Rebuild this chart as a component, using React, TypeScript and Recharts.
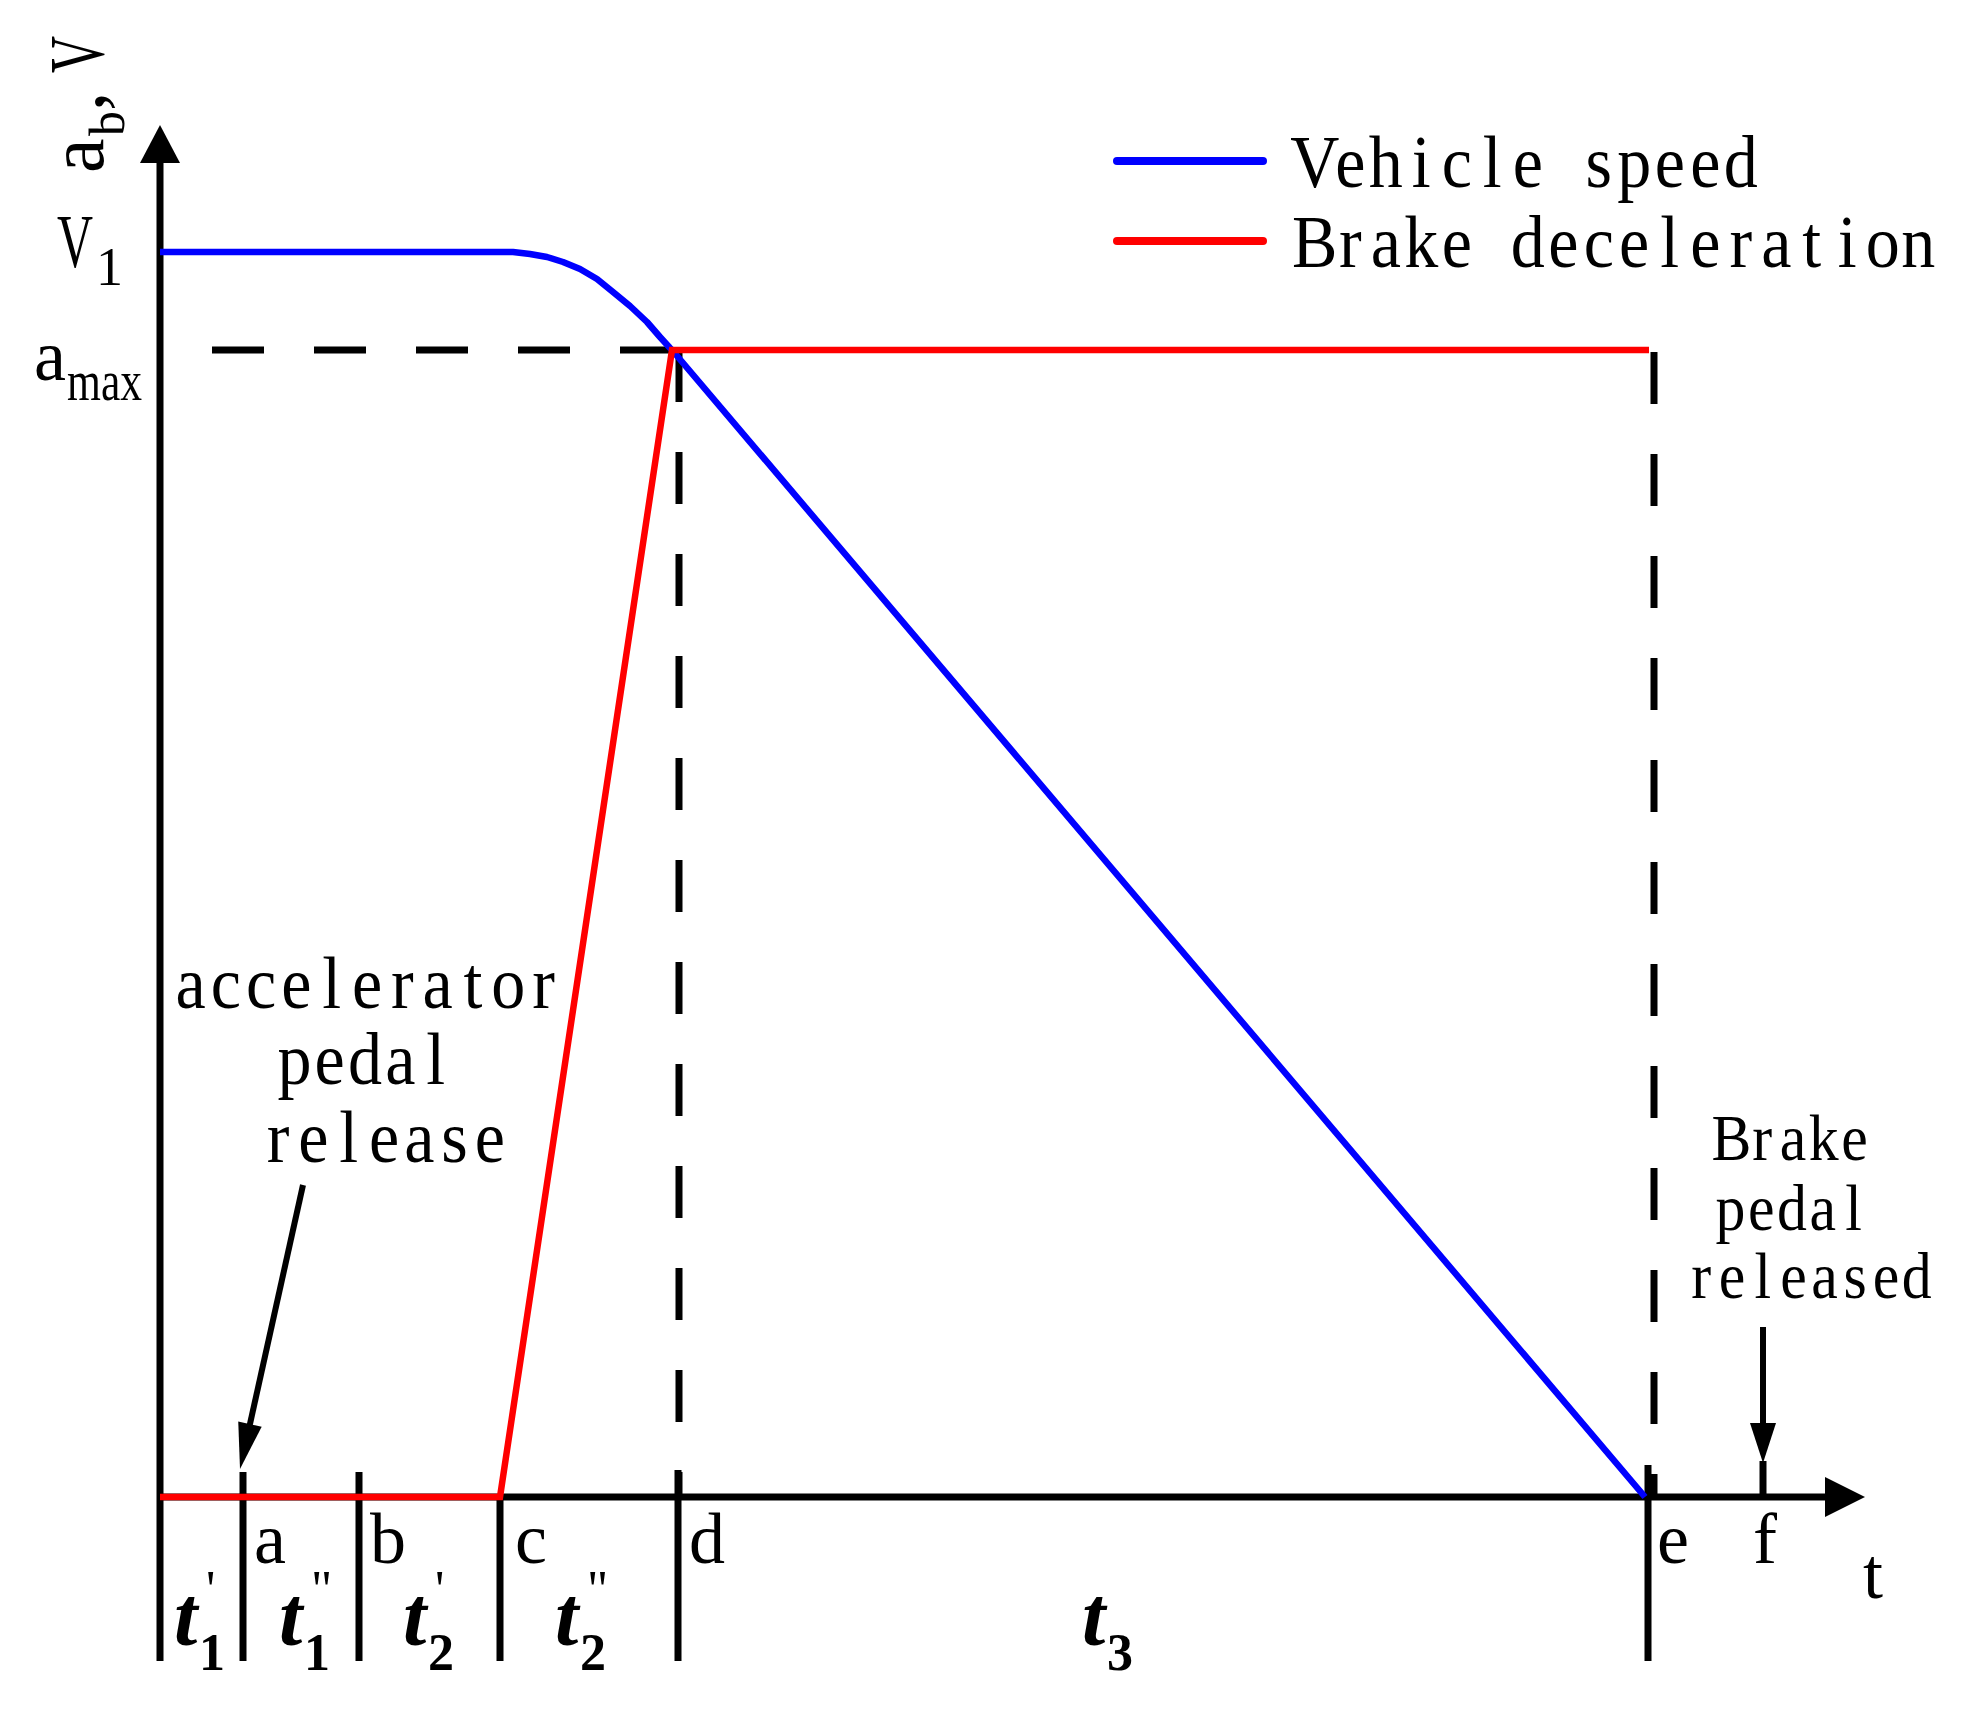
import React from 'react'
import { LineChart, Line, XAxis, YAxis, ReferenceLine, ReferenceDot, Legend } from 'recharts'

// time in arbitrary units, measured from the V axis
const SPEED_T = [0, 3.53, 3.7, 3.87, 4.03, 4.2, 4.37, 4.53, 4.7, 4.87, 5.0, 5.1, 5.12, 14.85]
const SPEED_V = [12.45, 12.45, 12.43, 12.4, 12.35, 12.28, 12.18, 12.05, 11.91, 11.75, 11.6, 11.49, 11.47, 0]
const DECEL_T = [0, 3.4, 5.12, 14.89]
const DECEL_A = [0, 0, 11.47, 11.47]
const SERIES_NAMES = ['Vehicle speed', 'Brake deceleration']

const V1 = 12.45
const A_MAX = 11.47

// phase boundaries a..e (solid marks under the t axis) and f (brake release)
const EVENT_T = [0.83, 1.99, 3.4, 5.18, 14.88]
const EVENT_TOP = [0.25, 0.25, 0, 0.27, 0.32]
const F_T = 16.03
const LETTERS = ['a', 'b', 'c', 'd', 'e', 'f']
const LETTER_T = [0.94, 2.1, 3.55, 5.29, 14.97, 15.93]

// phase durations under the axis
const SEG_T = [0.14, 1.19, 2.43, 3.95, 9.22]
const SEG_SUB = ['1', '1', '2', '2', '3']
const SEG_PRIME = ["'", '"', "'", '"', '']

const DASH_D_T = 5.19
const DASH_E_T = 14.94

const T_END = 17.05
const Y_TOP = 13.72
const BELOW = -1.64

const ACCEL_NOTE = ['accelerator', 'pedal', 'release']
const ACCEL_NOTE_T = [2.07, 2.05, 2.24]
const ACCEL_NOTE_Y = [4.89, 4.13, 3.35]
const BRAKE_NOTE = ['Brake', 'pedal', 'released']
const BRAKE_NOTE_T = [16.33, 16.32, 16.49]
const BRAKE_NOTE_Y = [3.37, 2.67, 1.99]

const speedData = SPEED_T.map((t, i) => ({ t, v: SPEED_V[i] }))
const decelData = DECEL_T.map((t, i) => ({ t, v: DECEL_A[i] }))

const SERIF = '"Liberation Serif", "Times New Roman", serif'

// evenly spaced serif glyphs, like the SimSun latin in the original
function CellText({ x, y, text, size, cw, anchor = 'start', sx = 0.92 }: any) {
  const start = anchor === 'middle' ? x - (text.length * cw) / 2 : x
  const xs = [...text].map((_: string, i: number) => ((i + 0.5) * cw) / sx)
  return (
    <g transform={`translate(${start},${y}) scale(${sx},1)`}>
      <text x={xs.join(' ')} y={0} textAnchor="middle" fontFamily={SERIF} fontSize={size} fill="#000">{text}</text>
    </g>
  )
}

const arrow = (len: number, half: number, w: number) => (p: any) => {
  const { x1, y1, x2, y2 } = p
  const dx = x2 - x1, dy = y2 - y1
  const L = Math.hypot(dx, dy) || 1
  const ux = dx / L, uy = dy / L
  const bx = x2 - ux * len, by = y2 - uy * len
  return (
    <g>
      <line x1={x1} y1={y1} x2={bx + ux * 3} y2={by + uy * 3} stroke="#000" strokeWidth={w} />
      <polygon points={`${x2},${y2} ${bx - uy * half},${by + ux * half} ${bx + uy * half},${by - ux * half}`} fill="#000" />
    </g>
  )
}

const renderLegend = (props: any) => {
  const items = [...(props.payload ?? [])].sort(
    (a: any, b: any) => SERIES_NAMES.indexOf(a.value) - SERIES_NAMES.indexOf(b.value))
  return (
    <svg width={880} height={170}>
      {items.map((it: any, i: number) => (
        <g key={i}>
          <line x1={17} x2={163} y1={41 + i * 80} y2={41 + i * 80} stroke={it.color} strokeWidth={8} strokeLinecap="round" />
          <CellText x={197} y={67 + i * 80} text={it.value} size={74} cw={35.5} />
        </g>
      ))}
    </svg>
  )
}

const dash = { stroke: '#000', strokeWidth: 7, strokeDasharray: '52 50' }

export default function App() {
  return (
    <>
      <style>{'body{margin:0}'}</style>
      <LineChart width={1976} height={1709} margin={{ top: 0, right: 0, bottom: 0, left: 0 }}>
        <XAxis dataKey="t" type="number" domain={[-1.6, 18.16]} hide allowDataOverflow />
        <YAxis type="number" domain={[-2.12, 14.97]} hide allowDataOverflow />

        {/* axes */}
        <ReferenceLine segment={[{ x: 0, y: BELOW }, { x: 0, y: Y_TOP }]} shape={arrow(38, 20, 7)} />
        <ReferenceLine segment={[{ x: 0, y: 0 }, { x: T_END, y: 0 }]} shape={arrow(40, 20, 7)} />

        {/* phase boundaries */}
        {EVENT_T.map((t, i) => (
          <ReferenceLine key={'ev' + i} segment={[{ x: t, y: BELOW }, { x: t, y: EVENT_TOP[i] }]} stroke="#000" strokeWidth={7} />
        ))}

        {/* dashed guides */}
        <ReferenceLine segment={[{ x: 5.12, y: A_MAX }, { x: 0, y: A_MAX }]} {...dash} />
        <ReferenceLine segment={[{ x: DASH_D_T, y: A_MAX }, { x: DASH_D_T, y: 0 }]} {...dash} />
        <ReferenceLine segment={[{ x: DASH_E_T, y: 11.45 }, { x: DASH_E_T, y: 0 }]} {...dash} />

        {/* pointer arrows */}
        <ReferenceLine segment={[{ x: 1.43, y: 3.12 }, { x: 0.8, y: 0.28 }]} shape={arrow(46, 12, 6)} />
        <ReferenceLine segment={[{ x: F_T, y: 1.7 }, { x: F_T, y: 0.34 }]} shape={arrow(40, 13, 6)} />
        <ReferenceLine segment={[{ x: F_T, y: 0.36 }, { x: F_T, y: 0 }]} stroke="#000" strokeWidth={7} />

        <Line data={speedData} dataKey="v" name={SERIES_NAMES[0]} type="linear" stroke="#0000ff" strokeWidth={6.5}
          strokeLinejoin="round" dot={false} activeDot={false} isAnimationActive={false} />
        <Line data={decelData} dataKey="v" name={SERIES_NAMES[1]} type="linear" stroke="#ff0000" strokeWidth={6.5}
          dot={false} activeDot={false} isAnimationActive={false} />

        {/* event letters */}
        {LETTERS.map((l, i) => (
          <ReferenceDot key={'l' + i} x={LETTER_T[i]} y={-0.66} r={1}
            shape={(p: any) => <text x={p.cx} y={p.cy} fontFamily={SERIF} fontSize={72} fill="#000">{l}</text>} />
        ))}
        <ReferenceDot x={17.03} y={-1.01} r={1}
          shape={(p: any) => <text x={p.cx} y={p.cy} fontFamily={SERIF} fontSize={72} fill="#000">t</text>} />

        {/* phase durations */}
        {SEG_T.map((t, i) => (
          <ReferenceDot key={'s' + i} x={t} y={-1.48} r={1}
            shape={(p: any) => (
              <g fill="#000" fontFamily={SERIF}>
                <text x={p.cx} y={p.cy} fontSize={84} fontStyle="italic" fontWeight="bold">t</text>
                <text x={p.cx + 25} y={p.cy + 25} fontSize={52} fontWeight="bold">{SEG_SUB[i]}</text>
                <text x={p.cx + 32} y={p.cy - 38} fontSize={52}>{SEG_PRIME[i]}</text>
              </g>
            )} />
        ))}

        {/* y axis marks */}
        <ReferenceDot x={-1.03} y={V1 - 0.15} r={1}
          shape={(p: any) => (
            <g fill="#000" fontFamily={SERIF}>
              <text x={p.cx} y={p.cy} fontSize={76} textLength={36} lengthAdjust="spacingAndGlyphs">V</text>
              <text x={p.cx + 39} y={p.cy + 18} fontSize={54}>1</text>
            </g>
          )} />
        <ReferenceDot x={-1.26} y={A_MAX - 0.3} r={1}
          shape={(p: any) => (
            <g fill="#000" fontFamily={SERIF}>
              <text x={p.cx} y={p.cy} fontSize={72}>a</text>
              <text x={p.cx + 33} y={p.cy + 20} fontSize={58} textLength={75} lengthAdjust="spacingAndGlyphs">max</text>
            </g>
          )} />
        <ReferenceDot x={-0.57} y={13.24} r={1}
          shape={(p: any) => (
            <g fill="#000" fontFamily={SERIF} transform={`translate(${p.cx},${p.cy}) rotate(-90)`}>
              <text x={0} y={0} fontSize={78}>a</text>
              <text x={37} y={21} fontSize={50}>b</text>
              <text x={62} y={0} fontSize={78}>,</text>
              <text x={100} y={0} fontSize={78} textLength={37} lengthAdjust="spacingAndGlyphs">V</text>
            </g>
          )} />

        {/* annotations */}
        {ACCEL_NOTE.map((s, i) => (
          <ReferenceDot key={'a' + i} x={ACCEL_NOTE_T[i]} y={ACCEL_NOTE_Y[i]} r={1}
            shape={(p: any) => <CellText x={p.cx} y={p.cy} text={s} size={74} cw={35.3} anchor="middle" />} />
        ))}
        {BRAKE_NOTE.map((s, i) => (
          <ReferenceDot key={'b' + i} x={BRAKE_NOTE_T[i]} y={BRAKE_NOTE_Y[i]} r={1}
            shape={(p: any) => <CellText x={p.cx} y={p.cy} text={s} size={65} cw={30.8} anchor="middle" />} />
        ))}

        <Legend layout="vertical" align="center" verticalAlign="middle" content={renderLegend}
          wrapperStyle={{ left: 1100, top: 120, width: 880, height: 170 }} />
      </LineChart>
    </>
  )
}
